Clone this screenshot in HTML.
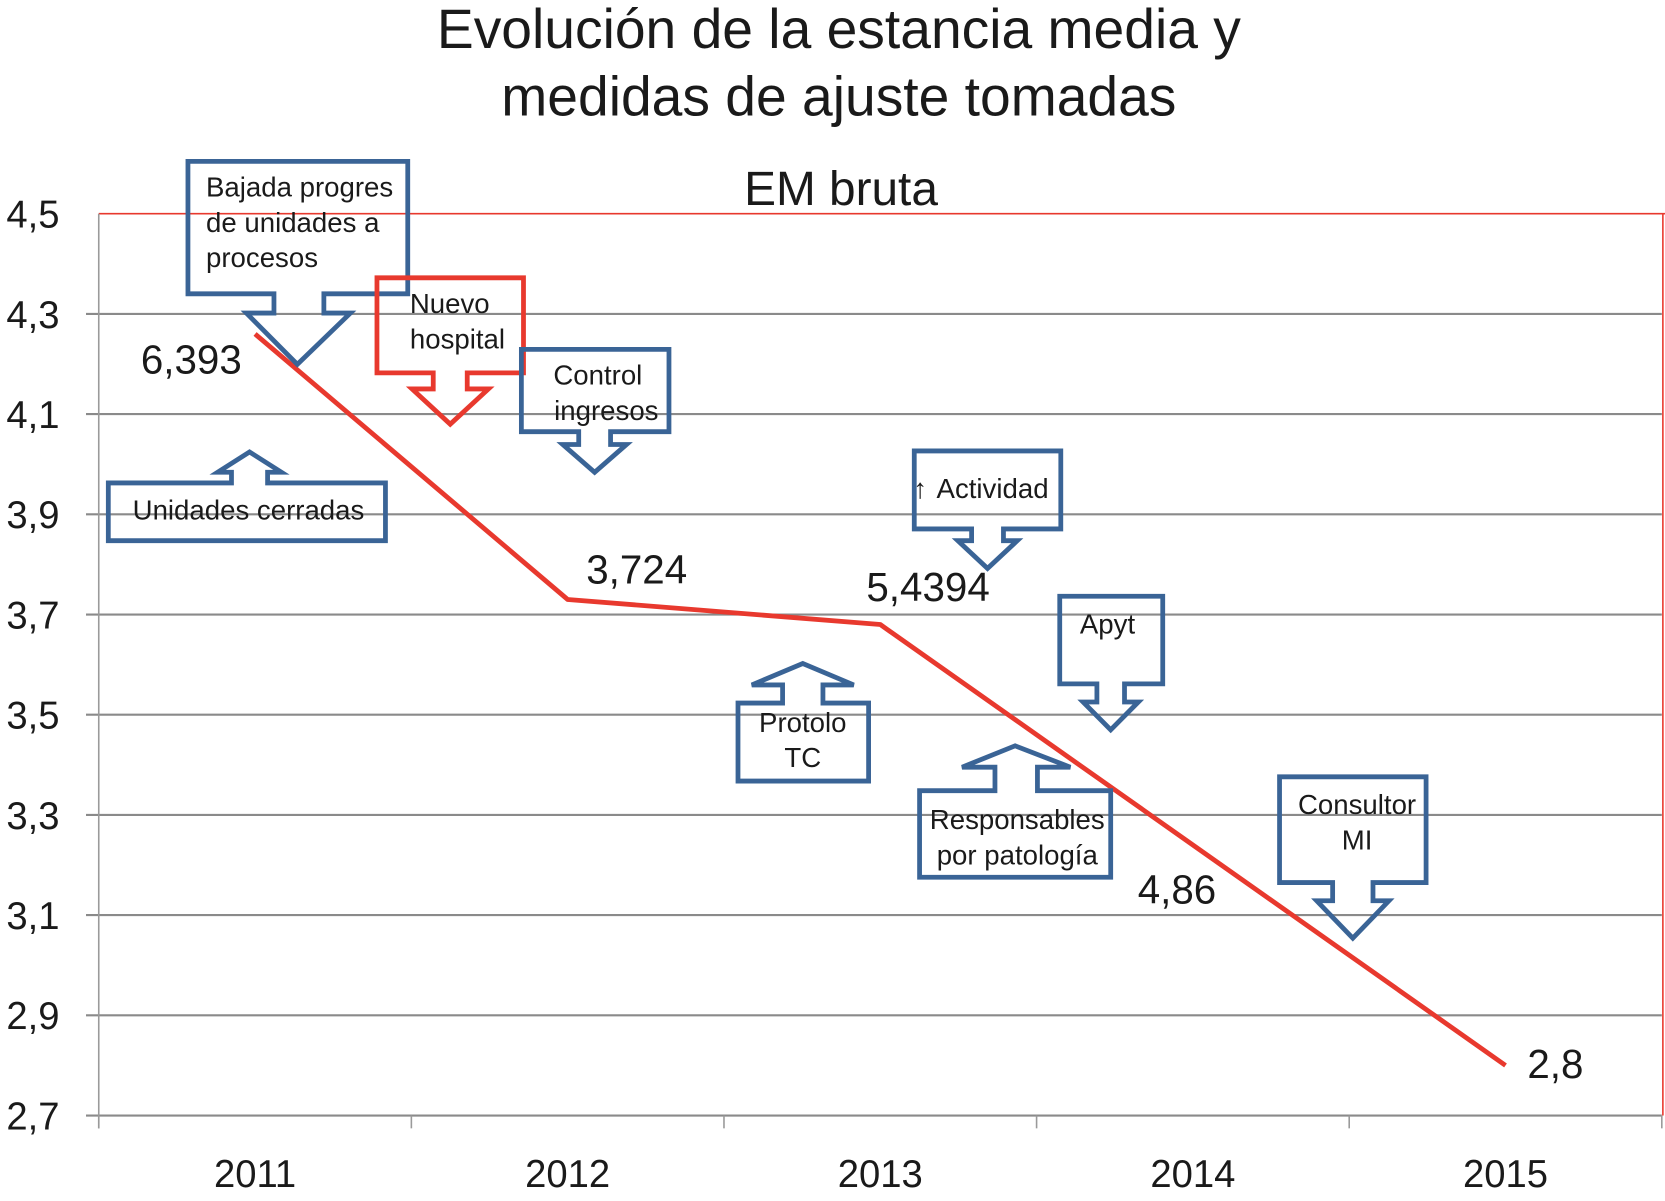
<!DOCTYPE html>
<html><head><meta charset="utf-8"><style>
html,body{margin:0;padding:0;background:#fff;}
svg{display:block;}
text{font-family:"Liberation Sans",sans-serif;fill:#1a1a1a;}
</style></head><body>
<svg id="chart" width="1665" height="1201" viewBox="0 0 1568 1124" preserveAspectRatio="none" xmlns="http://www.w3.org/2000/svg">
<text x="790" y="45" font-size="52" text-anchor="middle">Evolución de la estancia media y</text>
<text x="790" y="108" font-size="52" text-anchor="middle">medidas de ajuste tomadas</text>
<text x="792" y="192" font-size="45" text-anchor="middle">EM bruta</text>
<g id="grid"></g>
<g id="axes"></g>
<g id="series"></g>
<g id="notes"></g>
</svg>
<script>
const categories = ["2011","2012","2013","2014","2015"];
const values = [4.26, 3.73, 3.68, 3.24, 2.80];
const valueLabels = ["6,393","3,724","5,4394","4,86","2,8"];
const yTicks = [4.5,4.3,4.1,3.9,3.7,3.5,3.3,3.1,2.9,2.7];
const yTickLabels = ["4,5","4,3","4,1","3,9","3,7","3,5","3,3","3,1","2,9","2,7"];

const NS="http://www.w3.org/2000/svg";
const L=93,R=1565,T=200,B=1044,yMin=2.7,yMax=4.5;
const band=(R-L)/categories.length;
function xs(i){return L+band*(i+0.5);}
function ys(v){return B-(v-yMin)/(yMax-yMin)*(B-T);}
function mk(tag,attrs,parent,txt){const e=document.createElementNS(NS,tag);for(const k in attrs)e.setAttribute(k,attrs[k]);if(txt!==undefined)e.textContent=txt;parent.appendChild(e);return e;}
const grid=document.getElementById('grid'),axes=document.getElementById('axes'),series=document.getElementById('series'),notes=document.getElementById('notes');

yTicks.forEach((v,i)=>{
  const y=ys(v);
  if(v!==yMax){
    const g=mk('line',{x1:L-12,x2:R,y1:y,y2:y,stroke:'#8a8a8a','stroke-width':2},grid);
    
    
  }
  const t=mk('text',{x:56,y:y+13,'font-size':36,'text-anchor':'end'},axes,yTickLabels[i]);
  
  
});
const topBorder=mk('line',{x1:L,x2:R+3,y1:T,y2:T,stroke:'#e8392e','stroke-width':1.5},grid);


const rightBorder=mk('line',{x1:R+1,x2:R+1,y1:T,y2:B,stroke:'#e8392e','stroke-width':1.5},grid);


const yAxisLine=mk('line',{x1:L,x2:L,y1:T,y2:B+12,stroke:'#9a9a9a','stroke-width':1.5},axes);


for(let i=0;i<=categories.length;i++){
  const x=L+band*i;
  const tk=mk('line',{x1:x,x2:x,y1:B,y2:B+12,stroke:'#9a9a9a','stroke-width':1.5},axes);
  
  
}
categories.forEach((c,i)=>{
  const t=mk('text',{x:xs(i),y:1111,'font-size':36,'text-anchor':'middle'},axes,c);
  
  
});
const pts=values.map((v,i)=>xs(i)+','+ys(v)).join(' ');
const seriesLine=mk('polyline',{points:pts,fill:'none',stroke:'#e8392e','stroke-width':4.5,'stroke-linejoin':'round'},series);


const lblOff=[[-60,37],[65,-15],[45,-22],[-15,55],[47,12]];
valueLabels.forEach((s,i)=>{
  const t=mk('text',{x:xs(i)+lblOff[i][0],y:ys(values[i])+lblOff[i][1],'font-size':38,'text-anchor':'middle'},series,s);
  
  
});

function callout(name,col,x1,x2,y1,y2,s1,s2,w1,w2,wy,tipx,tipy,up,lines,ly,fs){
  let d;
  if(!up){
    d=`M${x1},${y1}H${x2}V${y2}H${s2}V${wy}H${w2}L${tipx},${tipy}L${w1},${wy}H${s1}V${y2}H${x1}Z`;
  }else{
    d=`M${x1},${y2}H${x2}V${y1}H${s2}V${wy}H${w2}L${tipx},${tipy}L${w1},${wy}H${s1}V${y1}H${x1}Z`;
  }
  const g=mk('g',{},notes);
  
  
  mk('path',{d:d,fill:'none',stroke:col,'stroke-width':4.5,'stroke-linejoin':'miter'},g);
  lines.forEach((s,k)=>{mk('text',{x:s[1],y:ly+k*(fs+7),'font-size':fs,'text-anchor':s[2]||'start'},g,s[0]);});
}
const BL='#3a6496',RD='#e8392e';
callout('callout-bajada',BL,177,384,151,275,258,305,232,330,293,280,341,false,[["Bajada progres",194],["de unidades a",194],["procesos",194]],184,26);
callout('callout-nuevo-hospital',RD,355,493,260,349,408,440,388,460,364,424,397,false,[["Nuevo",386],["hospital",386]],293,26);
callout('callout-control-ingresos',BL,491,630,327,404,545,575,530,590,416,560,442,false,[["Control",563,'middle'],["ingresos",571,'middle']],360,26);
callout('callout-unidades-cerradas',BL,102,363,452,506,218,252,205,265,442,235,423,true,[["Unidades cerradas",234,'middle']],486,26);
callout('callout-actividad',BL,861,999,422,495,915,945,902,958,506,930,532,false,[["Actividad",882]],466,26);
callout('callout-apyt',BL,998,1095,558,640,1033,1059,1020,1072,657,1046,683,false,[["Apyt",1043,'middle']],593,26);
callout('callout-protolo-tc',BL,695,818,658,731,737,775,708,804,641,756,621,true,[["Protolo",756,'middle'],["TC",756,'middle']],685,26);
callout('callout-responsables',BL,866,1046,740,821,937,977,906,1008,718,956,698,true,[["Responsables",958,'middle'],["por patología",958,'middle']],776,26);
callout('callout-consultor-mi',BL,1205,1343,727,826,1255,1293,1240,1308,843,1274,878,false,[["Consultor",1278,'middle'],["MI",1278,'middle']],762,26);
const upGlyph=mk('text',{x:860,y:466,'font-size':26,fill:'#3a6496'},notes,'↑');


</script>
</body></html>
